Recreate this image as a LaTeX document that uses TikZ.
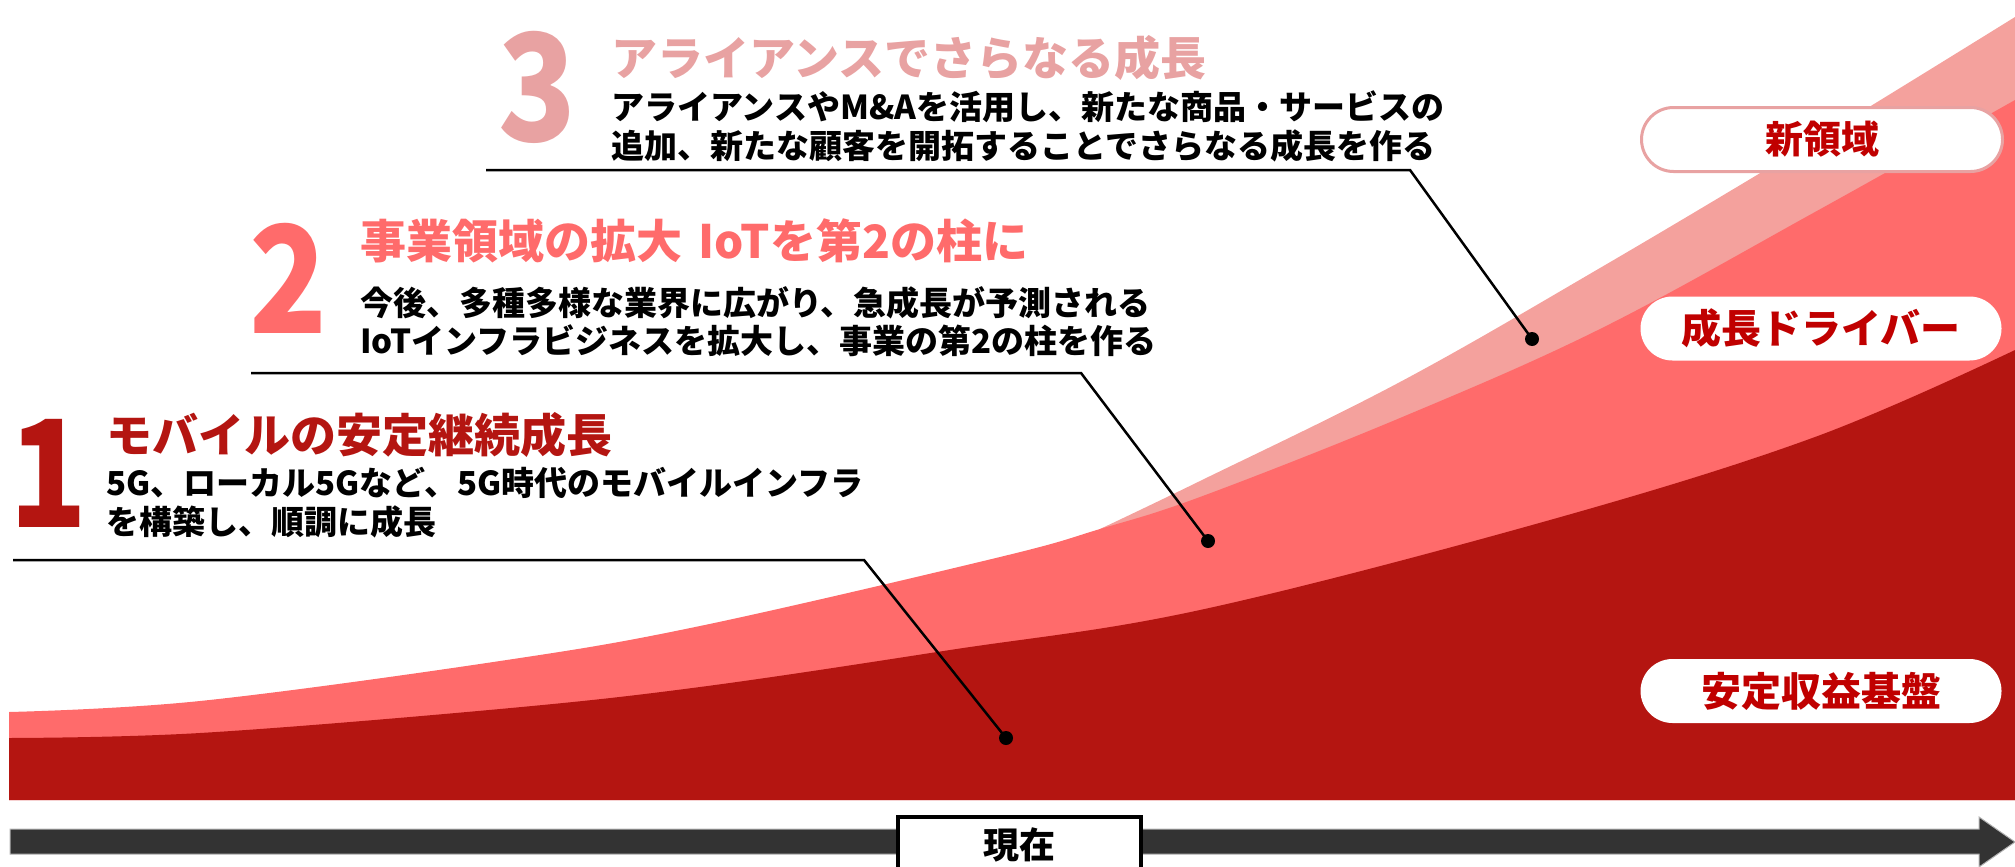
\documentclass[tikz,border=0pt]{standalone}
\usepackage{fontspec}
\setmainfont{Noto Sans CJK JP}
\definecolor{dred}{HTML}{B41511}
\definecolor{mred}{HTML}{FF6B6B}
\definecolor{lpink}{HTML}{F4A19D}
\definecolor{hpink}{HTML}{E8A2A2}
\definecolor{ptext}{HTML}{C00000}
\definecolor{barc}{HTML}{333333}
\newcommand{\bignumtext}[1]{\scalebox{0.86}[1]{#1}}
\begin{document}
\begin{tikzpicture}[x=1pt,y=-1pt,
  txt/.style={anchor=base west, inner sep=0pt, text=black, font=\bfseries\fontsize{33}{37}\selectfont},
  head/.style={anchor=base west, inner sep=0pt, font=\bfseries\fontsize{46}{50}\selectfont},
  bignum/.style={anchor=base west, inner sep=0pt, font=\bfseries\fontsize{149}{150}\selectfont},
  leader/.style={line width=2.5pt, black},
  dot/.style={circle, fill=black, inner sep=0pt, minimum size=14pt},
  pill/.style={rounded corners=32pt, fill=white, minimum width=361pt, minimum height=64pt, inner sep=0pt, text=ptext, font=\bfseries\fontsize{40}{44}\selectfont},
  nowbox/.style={draw=black, line width=3.5pt, fill=white, anchor=north, minimum width=243pt, inner xsep=0pt, inner ysep=0pt, text height=42pt, text depth=50pt, font=\bfseries\fontsize{36}{40}\selectfont}
]
\useasboundingbox (0,0) rectangle (2015,867);
% growth areas
\fill[lpink] (1100,800) -- (1100,529) -- plot[smooth, tension=0.6] coordinates {(1100,529) (1200,481) (1400,382) (1600,268) (1815,140) (2015,17)} -- (2015,800) -- cycle;
\fill[mred] (9,800) -- plot[smooth, tension=0.6] coordinates {(9,712) (200,701) (500,661) (700,626) (1000,557) (1100,529) (1200,497) (1400,418) (1600,329) (1815,212) (2015,100)} -- (2015,800) -- cycle;
\fill[dred] (9,800) -- plot[smooth, tension=0.6] coordinates {(9,738) (200,733) (500,709) (700,687) (950,650) (1200,610) (1550,520) (1815,437) (2015,350)} -- (2015,800) -- cycle;
% leaders
\coordinate (l3a) at (486,170);
\coordinate (l3b) at (1410,170);
\coordinate (l2a) at (251,373);
\coordinate (l2b) at (1081,373);
\coordinate (l1a) at (13,560);
\coordinate (l1b) at (864,560);
\node[dot] (d3) at (1532,339) {};
\node[dot] (d2) at (1208,541) {};
\node[dot] (d1) at (1006,738) {};
\draw[leader] (l3a) -- (l3b) -- (d3.center);
\draw[leader] (l2a) -- (l2b) -- (d2.center);
\draw[leader] (l1a) -- (l1b) -- (d1.center);
% big numbers
\node[bignum, text=hpink] (n3) at (498,141) {\bignumtext{3}};
\node[bignum, text=mred] (n2) at (249,333) {\bignumtext{2}};
\node[bignum, text=dred] (n1) at (9,527) {\bignumtext{1}};
% headings and texts
\node[head, text=hpink] (h3) at (611,75.5) {アライアンスでさらなる成長};
\node[txt] (b3a) at (611,119) {アライアンスやM\&Aを活用し、新たな商品・サービスの};
\node[txt] (b3b) at (611,158) {追加、新たな顧客を開拓することでさらなる成長を作る};
\node[head, text=mred] (h2) at (360,258.5) {事業領域の拡大\hspace{0.35em}IoTを第2の柱に};
\node[txt] (b2a) at (360,315.5) {今後、多種多様な業界に広がり、急成長が予測される};
\node[txt] (b2b) at (360,353.5) {IoTインフラビジネスを拡大し、事業の第2の柱を作る};
\node[head, text=dred] (h1) at (106,452.5) {モバイルの安定継続成長};
\node[txt] (b1a) at (106,495.5) {5G、ローカル5Gなど、5G時代のモバイルインフラ};
\node[txt] (b1b) at (106,534.5) {を構築し、順調に成長};
% pills
\node[pill, draw=hpink, line width=3pt, font=\bfseries\fontsize{38}{42}\selectfont] (p1) at (1822,139.5) {新領域};
\node[pill] (p2) at (1821,328.5) {成長ドライバー};
\node[pill] (p3) at (1821,691) {安定収益基盤};
% timeline
\fill[barc, draw=gray!60, line width=1pt] (10,829) -- (1979,829) -- (1979,817) -- (2015,842) -- (1979,867) -- (1979,854) -- (10,854) -- cycle;
\node[nowbox] (now) at (1019.5,815) {現在};
\end{tikzpicture}
\end{document}
